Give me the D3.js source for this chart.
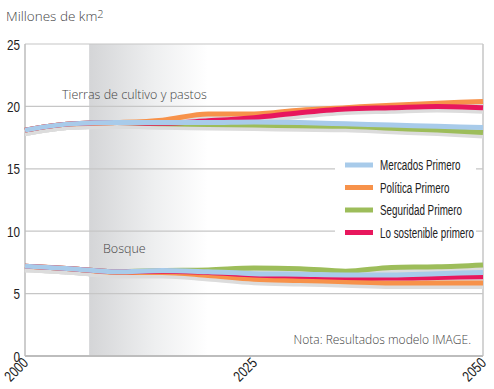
<!DOCTYPE html>
<html lang="es">
<head>
<meta charset="utf-8">
<title>Tierras de cultivo y bosque</title>
<style>
  body { margin: 0; background: #fff; }
  svg { display: block; }
  .lbl { font-family: "Open Sans", sans-serif; font-weight: 300; fill: #444; }
  .tick { font-family: "Liberation Sans", sans-serif; fill: #222; }
</style>
</head>
<body>
<script src="https://cdn.jsdelivr.net/npm/d3@7"></script>
<script>
// datos (millones de km2)
var years = [2000, 2005, 2010, 2015, 2020, 2025, 2030, 2035, 2040, 2045, 2050];
var series = ["Mercados Primero", "Política Primero", "Seguridad Primero", "Lo sostenible primero"];
var colors = ["#a8cbea", "#f7924a", "#9dbd5a", "#e8175d"];

var cultMercados   = [18.1, 18.6, 18.7, 18.7, 18.7, 18.75, 18.7, 18.6, 18.5, 18.4, 18.3];
var cultPolitica   = [18.1, 18.6, 18.7, 18.9, 19.4, 19.4, 19.7, 19.9, 20.1, 20.25, 20.4];
var cultSeguridad  = [18.1, 18.6, 18.7, 18.6, 18.55, 18.5, 18.45, 18.4, 18.25, 18.1, 17.9];
var cultSostenible = [18.1, 18.6, 18.7, 18.65, 18.85, 19.1, 19.5, 19.8, 19.9, 20.0, 19.9];

var bosqMercados   = [7.2, 7.0, 6.75, 6.85, 6.75, 6.6, 6.55, 6.5, 6.5, 6.6, 6.7];
var bosqPolitica   = [7.2, 7.0, 6.7, 6.7, 6.45, 6.15, 6.05, 5.95, 5.85, 5.85, 5.85];
var bosqSeguridad  = [7.2, 7.0, 6.75, 6.85, 6.9, 7.05, 7.0, 6.8, 7.1, 7.15, 7.3];
var bosqSostenible = [7.2, 7.0, 6.75, 6.8, 6.7, 6.5, 6.4, 6.3, 6.25, 6.3, 6.35];

var yTicks = [0, 5, 10, 15, 20, 25];
var xTicks = [2000, 2025, 2050];
var shade = [2007, 2020];

function main() {
    var width = 494, height = 389;
    var x0 = 25, x1 = 483, yTop = 44, yBot = 356;

    var x = d3.scaleLinear().domain([2000, 2050]).range([x0, x1]);
    var y = d3.scaleLinear().domain([0, 25]).range([yBot, yTop]);

    var svg = d3.select("body").append("svg")
        .attr("width", width).attr("height", height);

    // franja gris degradada
    var grad = svg.append("defs").append("linearGradient")
        .attr("id", "fade").attr("x1", "0%").attr("x2", "100%");
    grad.append("stop").attr("offset", "0%").attr("stop-color", "#d4d5d7");
    grad.append("stop").attr("offset", "55%").attr("stop-color", "#eeeff0");
    grad.append("stop").attr("offset", "100%").attr("stop-color", "#ffffff");

    svg.append("rect")
        .attr("x", x(shade[0])).attr("y", yTop)
        .attr("width", x(shade[1]) - x(shade[0])).attr("height", yBot - yTop)
        .attr("fill", "url(#fade)");

    // rejilla
    svg.selectAll(".grid").data(yTicks.slice(1)).enter().append("line")
        .attr("x1", x0).attr("x2", x1)
        .attr("y1", function (d) { return y(d); }).attr("y2", function (d) { return y(d); })
        .attr("stroke", "#c6c6c6").attr("stroke-width", 1.2);

    svg.append("line").attr("x1", x0).attr("x2", x0).attr("y1", yTop).attr("y2", yBot)
        .attr("stroke", "#bdbdbd").attr("stroke-width", 1.5);
    svg.append("line").attr("x1", x1).attr("x2", x1).attr("y1", yTop).attr("y2", yBot)
        .attr("stroke", "#c6c6c6").attr("stroke-width", 1.5);
    svg.append("line").attr("x1", x0).attr("x2", x1).attr("y1", yBot).attr("y2", yBot)
        .attr("stroke", "#bdbdbd").attr("stroke-width", 2);

    // lineas
    var line = d3.line()
        .x(function (d, i) { return x(years[i]); })
        .y(function (d) { return y(d); })
        .curve(d3.curveMonotoneX);

    var cult = [cultMercados, cultPolitica, cultSeguridad, cultSostenible];
    var bosq = [bosqMercados, bosqPolitica, bosqSeguridad, bosqSostenible];
    var order = [2, 1, 3, 0];

    [cult, bosq].forEach(function (group) {
        var g = svg.append("g");
        order.forEach(function (k) {
            g.append("path").attr("d", line(group[k]))
                .attr("transform", "translate(0,3)")
                .attr("fill", "none").attr("stroke", "#dcdcdc")
                .attr("stroke-width", 6);
        });
        order.forEach(function (k) {
            g.append("path").attr("d", line(group[k]))
                .attr("fill", "none").attr("stroke", colors[k])
                .attr("stroke-width", 5).attr("stroke-linejoin", "round");
        });
    });

    // leyenda (letra estrecha con scale)
    var leg = svg.append("g");
    leg.append("rect").attr("x", 335).attr("y", 150).attr("width", 141).attr("height", 95)
        .attr("fill", "#fff");
    series.forEach(function (s, i) {
        var cy = 165 + i * 22.5;
        leg.append("line").attr("x1", 345).attr("x2", 373).attr("y1", cy).attr("y2", cy)
            .attr("stroke", colors[i]).attr("stroke-width", 5);
        leg.append("text").attr("class", "tick")
            .attr("transform", "translate(380," + (cy + 5) + ") scale(0.68,1)")
            .attr("font-size", 14.5).text(s);
    });

    // ejes
    svg.selectAll(".ytick").data(yTicks).enter().append("text")
        .attr("class", "tick")
        .attr("transform", function (d) { return "translate(20," + (y(d) + 5.5) + ") scale(0.78,1)"; })
        .attr("text-anchor", "end").attr("font-size", 15)
        .text(function (d) { return d; });

    svg.selectAll(".xtick").data(xTicks).enter().append("text")
        .attr("class", "tick")
        .attr("transform", function (d) { return "translate(" + (x(d) + 4) + "," + (yBot + 8) + ") rotate(-45) scale(0.78,1)"; })
        .attr("text-anchor", "end").attr("font-size", 15)
        .text(function (d) { return d; });

    // textos
    var u = svg.append("text").attr("class", "lbl").attr("x", 6).attr("y", 21).attr("font-size", 13.5);
    u.append("tspan").text("Millones de km");
    u.append("tspan").attr("font-size", 11).attr("dy", -3).text("2");

    svg.append("text").attr("class", "lbl").attr("x", 62).attr("y", 99).attr("font-size", 12.5)
        .text("Tierras de cultivo y pastos");
    svg.append("text").attr("class", "lbl").attr("x", 103).attr("y", 253).attr("font-size", 12.5)
        .text("Bosque");
    svg.append("text").attr("class", "lbl").attr("x", 471).attr("y", 344).attr("font-size", 12)
        .attr("text-anchor", "end").text("Nota: Resultados modelo IMAGE.");
}

window.onload = function () {
    main();
};
</script>
</body>
</html>
